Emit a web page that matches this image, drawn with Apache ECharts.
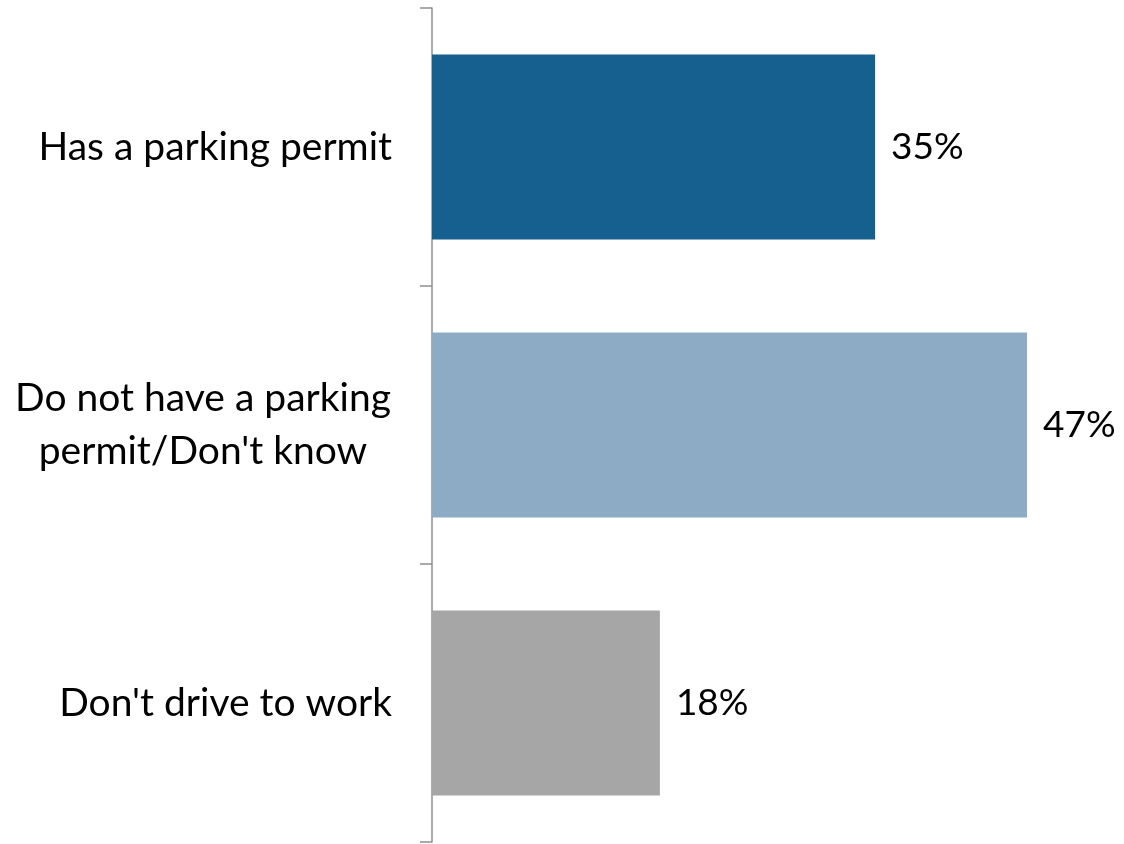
<!DOCTYPE html>
<html>
<head>
<meta charset="utf-8">
<script src="https://cdn.jsdelivr.net/npm/echarts@6/dist/echarts.min.js"></script>
<style>
  html, body { margin: 0; padding: 0; background: #fff; }
  #chart { width: 1124px; height: 844px; }
</style>
</head>
<body>
<div id="chart"></div>
<script>
// categories, top to bottom
const categories = ['Has a parking permit', "Do not have a parking\npermit/Don't know", "Don't drive to work"];
const values = [35, 47, 18];
const barColors = ['#15608f', '#8eabc6', '#a6a6a6'];

const chart = echarts.init(document.getElementById('chart'));

const option = {
  backgroundColor: '#ffffff',
  animation: false,
  grid: { left: 432, right: 59, top: 8, bottom: 2, containLabel: false },
  xAxis: {
    type: 'value',
    min: 0,
    max: 50,
    show: false
  },
  yAxis: {
    type: 'category',
    inverse: true,
    data: categories,
    axisLine: { show: true, lineStyle: { color: '#8f8f8f', width: 1.5 } },
    axisTick: { show: true, length: 12, lineStyle: { color: '#8f8f8f', width: 1.5 } },
    axisLabel: {
      color: '#000',
      fontFamily: 'Lato',
      fontSize: 39,
      lineHeight: 53,
      margin: 40,
      align: 'right',
      // multi-line labels are centred inside their block
      formatter: v => v.indexOf('\n') < 0 ? v : v.split('\n').map(s => '{c|' + s + '}').join('\n'),
      rich: {
        c: { width: 378, align: 'center', fontFamily: 'Lato', fontSize: 39, lineHeight: 53, color: '#000' }
      }
    }
  },
  series: [{
    type: 'bar',
    barCategoryGap: '33.5%',
    data: values.map((v, i) => ({ value: v, itemStyle: { color: barColors[i] } })),
    label: {
      show: true,
      position: 'right',
      distance: 16,
      color: '#000',
      fontFamily: 'Lato',
      fontSize: 37,
      formatter: p => p.value + '%'
    }
  }]
};

chart.setOption(option);
</script>
</body>
</html>
